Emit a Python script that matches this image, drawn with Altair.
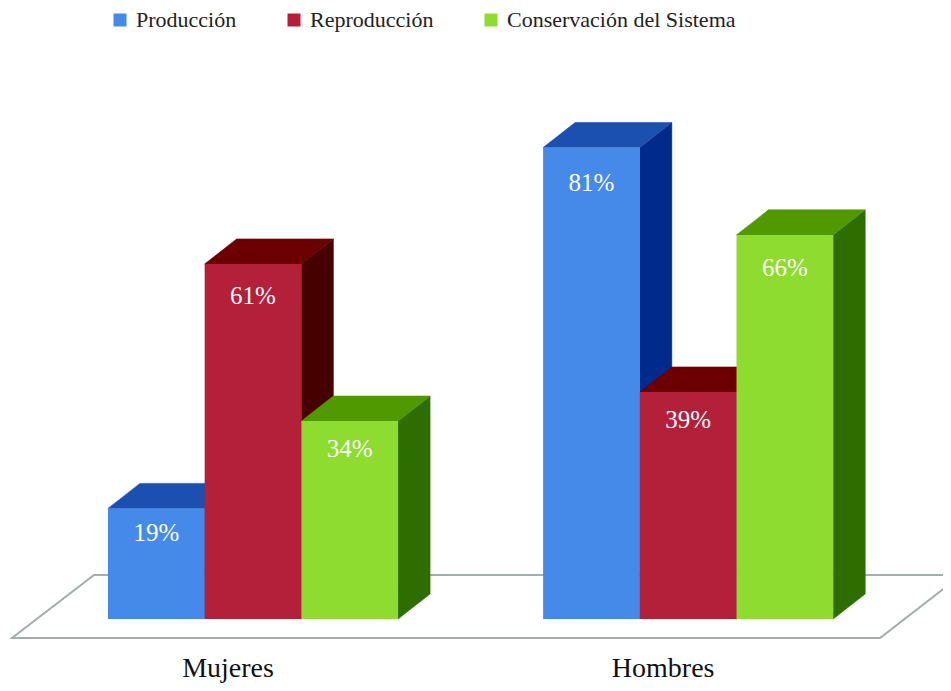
import altair as alt
import pandas as pd

# ---- data ----
categories = ["Mujeres", "Hombres"]
series = ["Producción", "Reproducción", "Conservación del Sistema"]
val_produccion = [19, 81]
val_reproduccion = [61, 39]
val_conservacion = [34, 66]
values = [val_produccion, val_reproduccion, val_conservacion]

front_colors = ["#4589E9", "#B41F39", "#8DDC2F"]
top_colors = ["#1C50B0", "#6C0000", "#509900"]
side_colors = ["#002A8C", "#470000", "#2E6E00"]

# ---- layout (units: x = bar widths, y = percent) ----
GROUP_STEP = 4.5
DX = 0.331          # depth offset in x
DY = 4.3            # depth offset in y
X_DOMAIN = [-2.5336, 7.1355]
Y_DOMAIN = [-10.997, 104.983]

floor_x = [-2.492, -1.644, 6.484, 7.325]
floor_lo = [-3.265, -3.265, -3.265, 7.56]
floor_hi = [-3.265, 7.56, 7.56, 7.56]

xs = alt.Scale(domain=X_DOMAIN, nice=False, zero=False)
ys = alt.Scale(domain=Y_DOMAIN, nice=False, zero=False)

fronts, sides, tops = [], [], []
for g, cat in enumerate(categories):
    for s, name in enumerate(series):
        v = values[s][g]
        x0 = g * GROUP_STEP - 1.5 + s
        x1 = x0 + 1
        bid = f"{cat}-{s}"
        fronts.append(dict(bar=bid, series=name, x0=x0, x1=x1, base=0, v=v,
                           xc=(x0 + x1) / 2, lab_y=v * 0.97 - 3.7,
                           label=f"{v}%"))
        for xx, lo, hi in [(x1, 0, v), (x1 + DX, DY, v + DY)]:
            sides.append(dict(bar=bid, x=xx, lo=lo, hi=hi, c=side_colors[s]))
        for xx, lo, hi in [(x0, v, v), (x0 + DX, v, v + DY),
                           (x1, v, v + DY), (x1 + DX, v + DY, v + DY)]:
            tops.append(dict(bar=bid, x=xx, lo=lo, hi=hi, c=top_colors[s]))

front_df = pd.DataFrame(fronts)
side_df = pd.DataFrame(sides)
top_df = pd.DataFrame(tops)
floor_df = pd.DataFrame(dict(x=floor_x, lo=floor_lo, hi=floor_hi))
cat_df = pd.DataFrame(dict(cat=categories,
                           x=[g * GROUP_STEP - 0.2585 for g in range(len(categories))],
                           y=[-8.55] * len(categories)))

floor = alt.Chart(floor_df).mark_area(
    orient="vertical", fill="#FFFFFF", stroke="#A3ADAD", strokeWidth=2, clip=True
).encode(
    x=alt.X("x:Q", scale=xs, axis=None),
    y=alt.Y("lo:Q", scale=ys, axis=None, stack=None),
    y2="hi:Q",
)

def faces(df):
    return alt.Chart(df).mark_area(orient="vertical", strokeWidth=0.6).encode(
        x=alt.X("x:Q", scale=xs, axis=None),
        y=alt.Y("lo:Q", scale=ys, axis=None, stack=None),
        y2="hi:Q",
        detail="bar:N",
        color=alt.Color("c:N", scale=None),
        stroke=alt.Stroke("c:N", scale=None),
    )

side_layer = faces(side_df)
top_layer = faces(top_df)

front_layer = alt.Chart(front_df).mark_rect().encode(
    x=alt.X("x0:Q", scale=xs, axis=None),
    x2="x1:Q",
    y=alt.Y("base:Q", scale=ys, axis=None),
    y2="v:Q",
    color=alt.Color(
        "series:N",
        scale=alt.Scale(domain=series, range=front_colors),
        legend=alt.Legend(
            orient="none", legendX=101, legendY=1, direction="horizontal",
            title=None, symbolType="square", symbolSize=169,
            symbolStrokeWidth=0, labelFont="Liberation Serif",
            labelFontSize=22, labelColor="#222222", labelOffset=5,
            columnPadding=46, labelLimit=400, padding=0,
        ),
    ),
)

labels = alt.Chart(front_df).mark_text(
    font="Liberation Serif", fontSize=25, color="#FFFFFF",
    align="center", baseline="middle",
).encode(
    x=alt.X("xc:Q", scale=xs, axis=None),
    y=alt.Y("lab_y:Q", scale=ys, axis=None),
    text="label:N",
)

cat_labels = alt.Chart(cat_df).mark_text(
    font="Liberation Serif", fontSize=28, color="#111111",
    align="center", baseline="middle",
).encode(
    x=alt.X("x:Q", scale=xs, axis=None),
    y=alt.Y("y:Q", scale=ys, axis=None),
    text="cat:N",
)

chart = alt.layer(
    floor, side_layer, top_layer, front_layer, labels, cat_labels
).resolve_scale(color="independent", stroke="independent").properties(
    width=935, height=675,
    autosize=alt.AutoSizeParams(type="none"),
    padding=0,
).configure_view(stroke=None)

chart.save("out.html", embed_options={"renderer": "svg", "actions": False})
